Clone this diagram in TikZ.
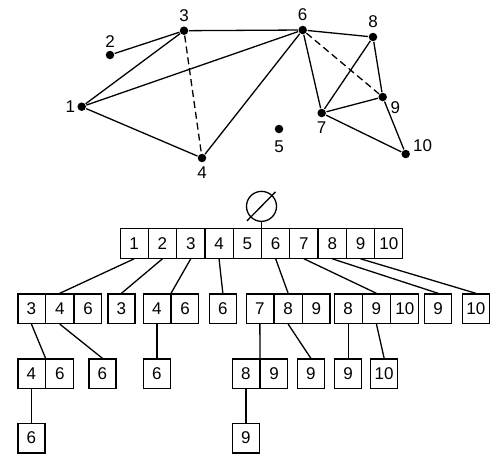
\documentclass[tikz,border=0pt]{standalone}
\usepackage{fontspec}
\setmainfont{Liberation Sans}
\usetikzlibrary{shapes.multipart, positioning}

\begin{document}
\begin{tikzpicture}[
    x=1pt, y=-1pt,
    line width=1.3pt,
    font=\fontsize{17}{20}\selectfont,
    vertex/.style={circle, fill=black, inner sep=0pt, minimum size=8.5pt},
    every label/.style={inner sep=1pt, font=\fontsize{17}{20}\selectfont},
    label distance=2.5pt,
    every edge/.append style={line width=1.3pt},
    gap/.style={dash pattern=on 7pt off 4pt},
    vset/.style={draw, rectangle split, rectangle split horizontal, rectangle split parts=#1,
        inner xsep=0pt, inner ysep=0pt, text width=27pt, align=center,
        minimum height=29.5pt, anchor=north west},
    emptyset/.style={circle, draw, minimum size=30pt, inner sep=0pt}
]
   \useasboundingbox (0,0) rectangle (500,459);

   % Graph vertices
   \node[vertex, label={[label distance=0pt]left:1}] (v1) at (81.7,106.7) {};
   \node[vertex, label={[label distance=0.5pt]above:2}] (v2) at (110,55) {};
   \node[vertex, label=above:3] (v3) at (184,30.7) {};
   \node[vertex, label=below:4] (v4) at (202,158) {};
   \node[vertex, label={[label distance=5pt]below:5}] (v5) at (279,129) {};
   \node[vertex, label=above:6] (v6) at (302.7,30) {};
   \node[vertex, label=below:7] (v7) at (321.7,113) {};
   \node[vertex, label=above:8] (v8) at (373,37) {};
   \node[vertex, label={[label distance=2pt]-25:9}] (v9) at (382.7,97) {};
   \node[vertex, label={[label distance=1pt]10:10}] (v10) at (405.7,154) {};

   % Graph edges
   \path
   (v2) edge (v3)
   (v1) edge (v3)
        edge (v6)
        edge (v4)
   (v3) edge (v6)
        edge[gap] (v4)
   (v4) edge (v6)
   (v6) edge (v8)
        edge (v7)
        edge[gap] (v9)
   (v8) edge (v9)
        edge (v7)
   (v7) edge (v9)
        edge (v10)
   (v9) edge (v10);

   % Root of the enumeration tree
   \node[vset=10] (r) at (120,228)
     {1\nodepart{two}2\nodepart{three}3\nodepart{four}4\nodepart{five}5%
      \nodepart{six}6\nodepart{seven}7\nodepart{eight}8\nodepart{nine}9\nodepart{ten}10};
   \node[emptyset, above=6pt of r] (e) {};
   \draw (e.center) +(-14.5,14.5) -- +(14,-14.5);

   % Second level
   \node[vset=3] (n1) at (17.3,293.3) {3\nodepart{two}4\nodepart{three}6};
   \node[vset=1] (n2) at (107.3,293.3) {3};
   \node[vset=2] (n3) at (142.7,293.3) {4\nodepart{two}6};
   \node[vset=1] (n4) at (208.7,293.3) {6};
   \node[vset=3] (n6) at (245.7,293.3) {7\nodepart{two}8\nodepart{three}9};
   \node[vset=3] (n7) at (334,293.3) {8\nodepart{two}9\nodepart{three}10};
   \node[vset=1] (n8) at (424,293.3) {9};
   \node[vset=1] (n9) at (461.7,293.3) {10};

   % Third level
   \node[vset=2] (n13) at (17.3,358.3) {4\nodepart{two}6};
   \node[vset=1] (n14) at (88.3,358.3) {6};
   \node[vset=1] (n34) at (142.7,358.3) {6};
   \node[vset=2] (n67) at (231.7,358.3) {8\nodepart{two}9};
   \node[vset=1] (n68) at (296.7,358.3) {9};
   \node[vset=1] (n78) at (334,358.3) {9};
   \node[vset=1] (n79) at (370,358.3) {10};

   % Fourth level
   \node[vset=1] (n134) at (17.3,422.7) {6};
   \node[vset=1] (n678) at (231.7,422.7) {9};

   % Tree links
   \draw (e.south) -- (r.north);
   \draw (r.one south) -- (n1.north);
   \draw (r.two south) -- (n2.north);
   \draw (r.three south) -- (n3.north);
   \draw (r.four south) -- (n4.north);
   \draw (r.six south) -- (n6.north);
   \draw (r.seven south) -- (n7.north);
   \draw (r.eight south) -- (n8.north);
   \draw (r.nine south) -- (n9.north);
   \draw (n1.one south) -- (n13.north);
   \draw (n1.two south) -- (n14.north);
   \draw (n3.one south) -- (n34.north);
   \draw (n6.one south) -- (n67.north);
   \draw (n6.two south) -- (n68.north);
   \draw (n7.one south) -- (n78.north);
   \draw (n7.two south) -- (n79.north);
   \draw (n13.one south) -- (n134.north);
   \draw (n67.one south) -- (n678.north);
\end{tikzpicture}
\end{document}
